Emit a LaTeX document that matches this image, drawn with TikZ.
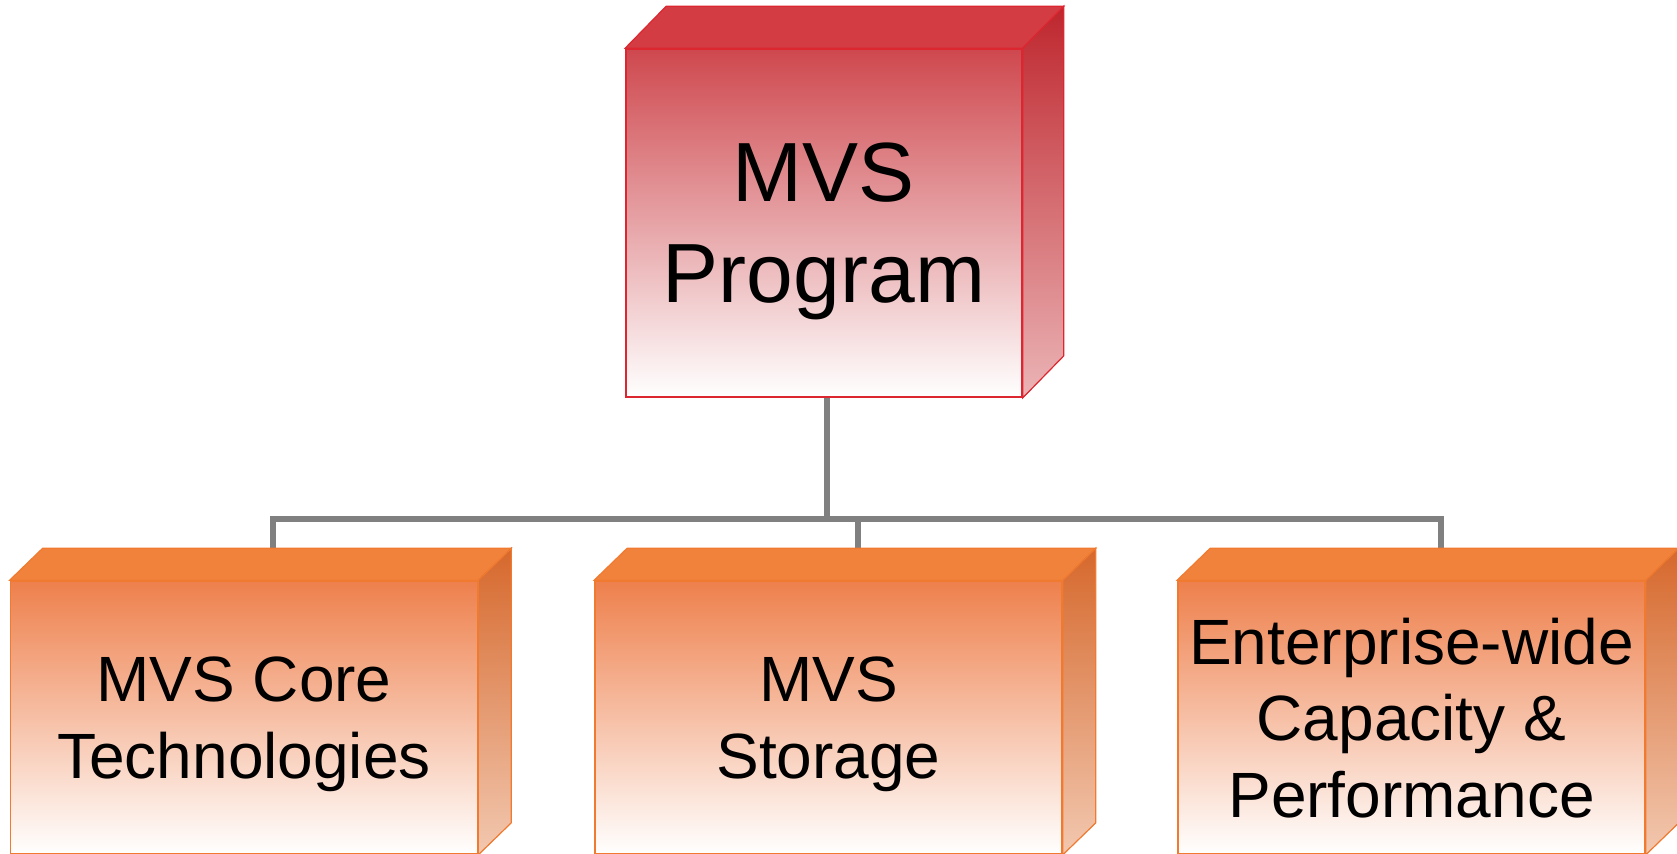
\documentclass[tikz,border=0pt]{standalone}
\usepackage{fontspec}
\setmainfont{Liberation Sans}
\usetikzlibrary{calc}

\definecolor{roottop}{RGB}{206,72,78}
\definecolor{rootline}{RGB}{220,38,48}
\definecolor{rootcap}{RGB}{212,60,68}
\definecolor{rootsidetop}{RGB}{190,38,45}
\definecolor{rootsidebot}{RGB}{235,180,182}
\definecolor{leaftop}{RGB}{238,128,76}
\definecolor{leafline}{RGB}{240,122,48}
\definecolor{leafcap}{RGB}{240,130,60}
\definecolor{leafsidetop}{RGB}{214,104,44}
\definecolor{leafsidebot}{RGB}{242,200,176}
\definecolor{linkgray}{RGB}{128,128,128}

\tikzset{
  front/.style={rectangle, draw, inner sep=0pt, line width=0.8pt, align=center,
    text depth=-3pt},
  root/.style={front, draw=rootline, top color=roottop, bottom color=white,
    minimum width=198pt, minimum height=174pt,
    font=\fontsize{42}{50.5}\selectfont},
  leaf/.style={front, draw=leafline, top color=leaftop, bottom color=white,
    minimum width=233.5pt, minimum height=136.5pt,
    font=\fontsize{32}{38.25}\selectfont},
  rootcapface/.style={fill=rootcap, draw=rootline, line width=0.6pt},
  rootsideface/.style={top color=rootsidetop, bottom color=rootsidebot, draw=rootline, line width=0.6pt},
  leafcapface/.style={fill=leafcap, draw=leafline, line width=0.6pt},
  leafsideface/.style={top color=leafsidetop, bottom color=leafsidebot, draw=leafline, line width=0.6pt},
  link/.style={draw=linkgray, line width=3pt}
}

\begin{document}
\begin{tikzpicture}[x=0.5pt, y=-0.5pt]
    \useasboundingbox (0,0) rectangle (1677,853);

    % boxes (front faces)
    \node[root] (program) at (824,223) {MVS\\Program};
    \node[leaf] (core) at (244,717.5) {MVS Core\\Technologies};
    \node[leaf] (storage) at (828.5,717.5) {MVS\\Storage};
    \node[leaf] (capacity) at (1411.5,717.5) {Enterprise-wide\\Capacity \&\\Performance};

    % connectors
    \coordinate (bus) at (827,519);
    \draw[link] (program.south -| bus) -- (bus);
    \foreach \n in {core,storage,capacity}
        \draw[link] (bus) -| ($(\n.north)+(29,-32)$);

    % top and side faces
    \filldraw[rootcapface] (program.north west) -- ++(41,-42)
        -- ($(program.north east)+(41,-42)$) -- (program.north east) -- cycle;
    \filldraw[rootsideface] (program.north east) -- ++(41,-42)
        -- ($(program.south east)+(41,-42)$) -- (program.south east) -- cycle;
    \foreach \n in {core,storage,capacity} {
        \filldraw[leafcapface] (\n.north west) -- ++(33,-32)
            -- ($(\n.north east)+(33,-32)$) -- (\n.north east) -- cycle;
        \filldraw[leafsideface] (\n.north east) -- ++(33,-32)
            -- ($(\n.south east)+(33,-32)$) -- (\n.south east) -- cycle;
    }
\end{tikzpicture}
\end{document}
